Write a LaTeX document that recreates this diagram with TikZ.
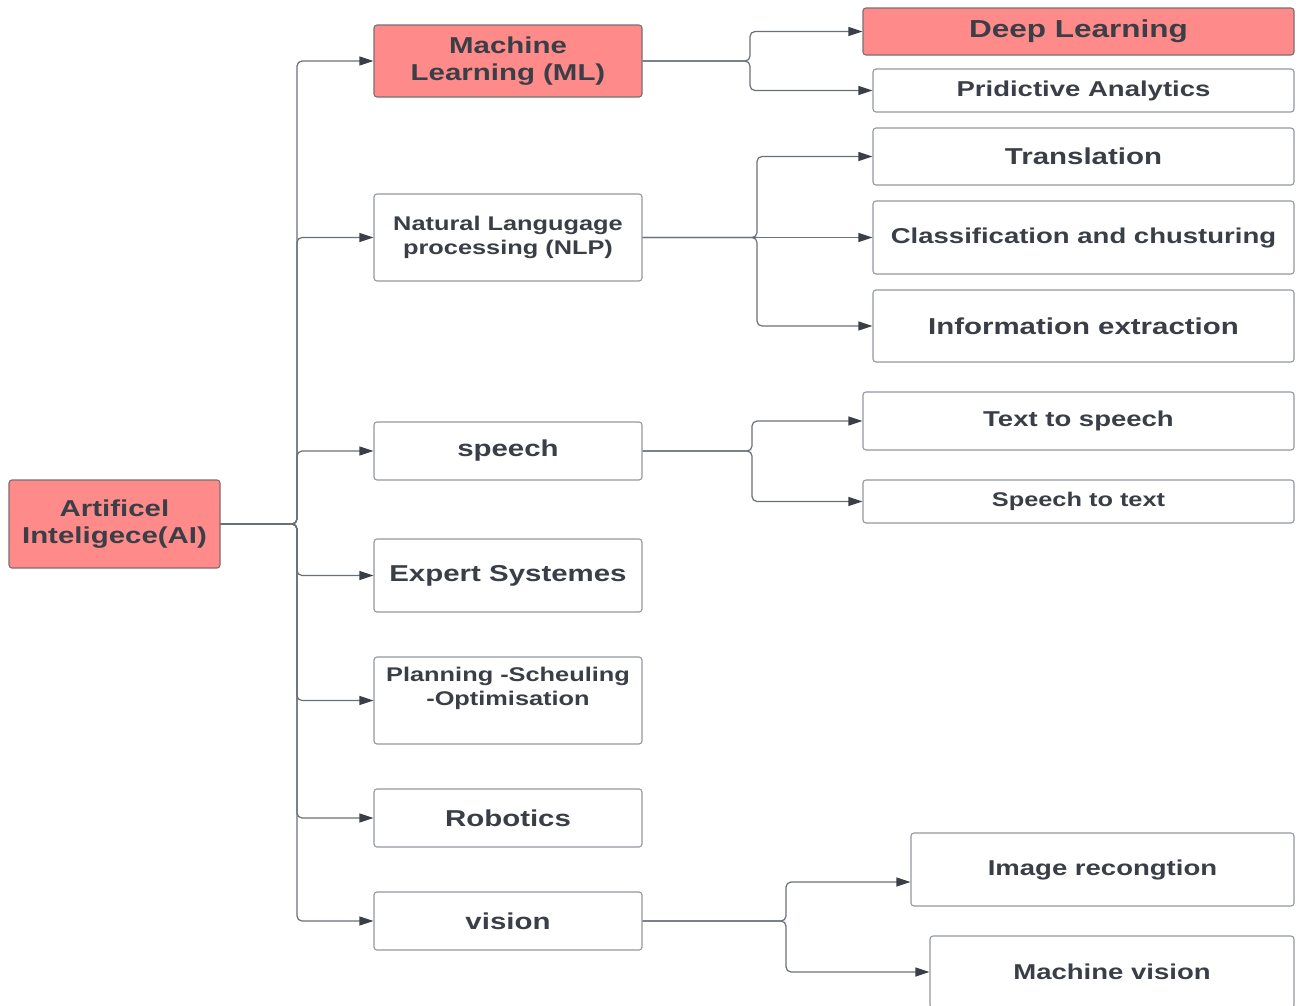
\documentclass[tikz,border=0pt]{standalone}
\usepackage{fontspec}
\setmainfont{Liberation Sans}[FakeStretch=1.28]
\usetikzlibrary{arrows.meta}
\definecolor{pinkf}{HTML}{FF8A8A}
\definecolor{pbord}{HTML}{7A6E70}
\definecolor{bordc}{HTML}{9399A0}
\definecolor{txtc}{HTML}{3A3F47}
\definecolor{linec}{HTML}{6A7078}
\definecolor{arrc}{HTML}{3A3F47}
\newcommand\fA{\fontsize{23}{27.5}\selectfont}
\newcommand\fB{\fontsize{21.5}{26}\selectfont}
\newcommand\fC{\fontsize{19.8}{24}\selectfont}
\newcommand\fD{\fontsize{24.6}{29}\selectfont}
\begin{document}
\begin{tikzpicture}[x=1pt,y=-1pt,
  box/.style={draw=bordc, line width=1.1pt, rounded corners=3pt, fill=white,
    text=txtc, align=center, inner sep=0pt},
  pinkbox/.style={box, fill=pinkf, draw=pbord},
  fa/.style={font=\bfseries\fA},
  fb/.style={font=\bfseries\fB},
  fc/.style={font=\bfseries\fC},
  fd/.style={font=\bfseries\fD},
  conn/.style={draw=linec, line width=1.2pt, rounded corners=5pt,
    -{Triangle[length=14pt,width=9pt,color=arrc]}}]
\useasboundingbox[fill=white] (0,0) rectangle (1302,1005);

% level 0
\node[pinkbox, fa, minimum width=211pt, minimum height=88pt] (ai) at (114.5,524) {Artificel\\Inteligece(AI)};

% level 1
\node[pinkbox, fa, minimum width=268pt, minimum height=72pt] (ml) at (508,61) {Machine\\Learning (ML)};
\node[box, fc, minimum width=268pt, minimum height=87pt] (nlp) at (508,237.5) {Natural Langugage\\processing (NLP)};
\node[box, fa, minimum width=268pt, minimum height=58pt] (sp) at (508,451) {speech};
\node[box, fa, minimum width=268pt, minimum height=73pt] (ex) at (508,575.5) {Expert Systemes};
\node[box, minimum width=268pt, minimum height=87pt] (pl) at (508,700.5) {};
\node[fc, text=txtc, align=center, inner sep=0pt] (plt) at ([yshift=12.5pt]pl.center) {Planning -Scheuling\\-Optimisation};
\node[box, fa, minimum width=268pt, minimum height=58pt] (rb) at (508,818) {Robotics};
\node[box, fa, minimum width=268pt, minimum height=58pt] (vi) at (508,921) {vision};

% level 2
\node[pinkbox, fd, minimum width=431pt, minimum height=47pt] (dl) at (1078.5,31.5) {Deep Learning};
\node[box, fb, minimum width=421pt, minimum height=43pt] (pa) at (1083.5,90.5) {Pridictive Analytics};
\node[box, fa, minimum width=421pt, minimum height=57pt] (tr) at (1083.5,156.5) {Translation};
\node[box, fb, minimum width=421pt, minimum height=73pt] (cl) at (1083.5,237.5) {Classification and chusturing};
\node[box, fa, minimum width=421pt, minimum height=72pt] (ie) at (1083.5,326) {Information extraction};
\node[box, fb, minimum width=431pt, minimum height=58pt] (tts) at (1078.5,421) {Text to speech};
\node[box, fc, minimum width=431pt, minimum height=43pt] (stt) at (1078.5,501.5) {Speech to text};
\node[box, fb, minimum width=383pt, minimum height=73pt] (ir) at (1102.5,869.5) {Image recongtion};
\node[box, fb, minimum width=364pt, minimum height=72pt] (mv) at (1112,972) {Machine vision};

% connectors from AI
\coordinate (t0) at (297,524);
\foreach \n in {ml,nlp,sp,ex,pl,rb,vi} \draw[conn] (ai.east) -- (t0) |- (\n.west);

% ML
\coordinate (m0) at (750,61);
\draw[conn] (ml.east) -- (m0) |- (dl.west);
\draw[conn] (ml.east) -- (m0) |- (pa.west);

% NLP
\coordinate (n0) at (757,237.5);
\draw[conn] (nlp.east) -- (n0) |- (tr.west);
\draw[conn] (nlp.east) -- (cl.west);
\draw[conn] (nlp.east) -- (n0) |- (ie.west);

% speech
\coordinate (s0) at (752,451);
\draw[conn] (sp.east) -- (s0) |- (tts.west);
\draw[conn] (sp.east) -- (s0) |- (stt.west);

% vision
\coordinate (v0) at (786,921);
\draw[conn] (vi.east) -- (v0) |- ([yshift=-12.5pt]ir.west);
\draw[conn] (vi.east) -- (v0) |- (mv.west);
\end{tikzpicture}
\end{document}
